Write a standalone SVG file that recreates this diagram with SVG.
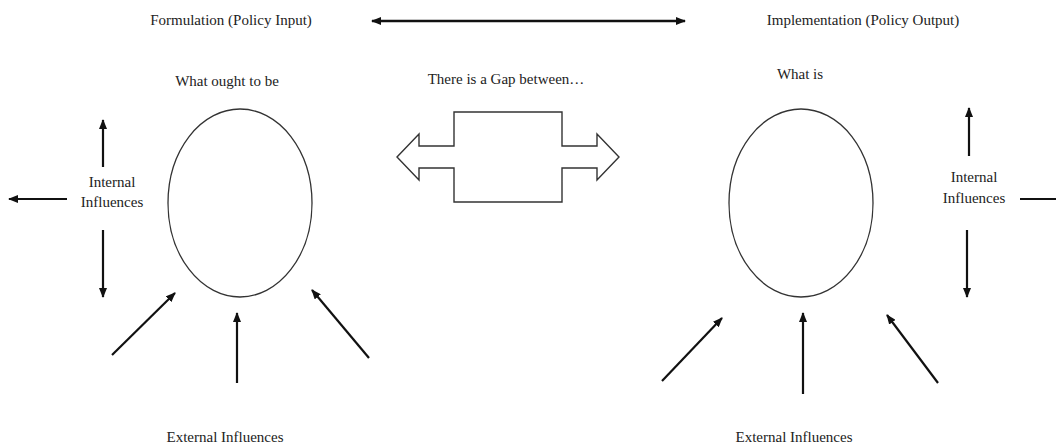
<svg xmlns="http://www.w3.org/2000/svg" width="1056" height="444" viewBox="0 0 1056 444">
<style>
text{font-family:"Liberation Serif","Times New Roman",serif;font-size:15px;fill:#222;text-anchor:middle}
.oval{fill:none;stroke:#333;stroke-width:1.3}
.arr{stroke:#111;stroke-width:2.2;fill:none;marker-end:url(#ah)}
.gap{fill:#fff;stroke:#333;stroke-width:1.4;stroke-linejoin:miter}
</style>
<defs>
<marker id="ah" markerUnits="userSpaceOnUse" markerWidth="10" markerHeight="8" refX="9" refY="4" orient="auto">
<path d="M0,0 L10,4 L0,8 Z" fill="#111"/>
</marker>
<marker id="as" markerUnits="userSpaceOnUse" markerWidth="10" markerHeight="8" refX="1" refY="4" orient="auto">
<path d="M10,0 L0,4 L10,8 Z" fill="#111"/>
</marker>
</defs>
<g id="formulation"><text x="231" y="25">Formulation (Policy Input)</text></g>
<g id="implementation"><text x="863" y="25">Implementation (Policy Output)</text></g>
<g id="ought"><text x="227" y="86">What ought to be</text><ellipse class="oval" cx="240" cy="203" rx="72" ry="94"/></g>
<g id="gap"><text x="506" y="84">There is a Gap between…</text>
<path class="gap" d="M397,157 L419,134 L419,146 L454,146 L454,112 L562,112 L562,146 L597,146 L597,134 L619,157 L597,180 L597,168 L562,168 L562,202 L454,202 L454,168 L419,168 L419,180 Z"/></g>
<g id="whatis"><text x="800" y="79">What is</text><ellipse class="oval" cx="801" cy="203" rx="72" ry="94"/></g>
<g id="internal-left"><text x="112" y="187">Internal</text><text x="112" y="207">Influences</text></g>
<g id="internal-right"><text x="974" y="182">Internal</text><text x="974" y="203">Influences</text></g>
<g id="external-left"><text x="225" y="442">External Influences</text></g>
<g id="external-right"><text x="794" y="442">External Influences</text></g>
<g id="connectors">
<line x1="372" y1="21" x2="685" y2="21" stroke="#111" stroke-width="2.6" marker-start="url(#as)" marker-end="url(#ah)"/>
<line class="arr" x1="103" y1="167" x2="103" y2="120"/>
<line class="arr" x1="103" y1="230" x2="103" y2="297"/>
<line class="arr" x1="67" y1="199" x2="9" y2="199"/>
<line class="arr" x1="112" y1="355" x2="175" y2="293"/>
<line class="arr" x1="237" y1="383" x2="237" y2="313"/>
<line class="arr" x1="369" y1="358" x2="312" y2="290"/>
<line class="arr" x1="969" y1="156" x2="969" y2="108"/>
<line class="arr" x1="967" y1="230" x2="967" y2="297"/>
<line x1="1020" y1="199" x2="1060" y2="199" stroke="#111" stroke-width="2.2"/>
<line class="arr" x1="662" y1="381" x2="722" y2="318"/>
<line class="arr" x1="803" y1="394" x2="803" y2="313"/>
<line class="arr" x1="938" y1="383" x2="887" y2="315"/>
</g>
</svg>
